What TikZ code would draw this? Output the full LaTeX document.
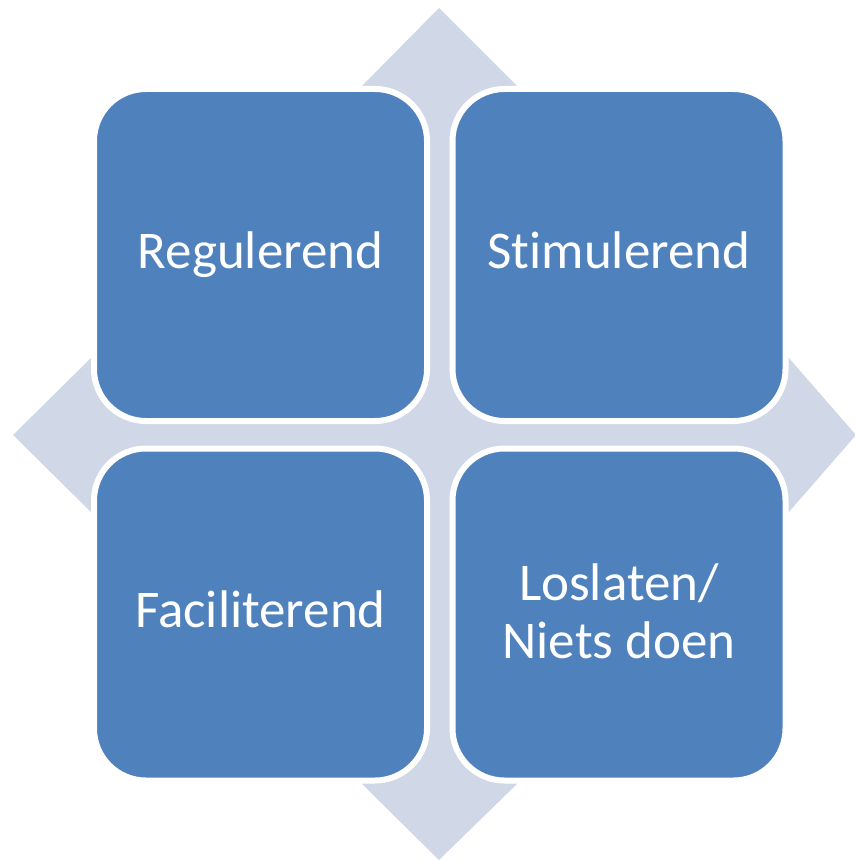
\documentclass[tikz,border=0pt]{standalone}
\usepackage{fontspec}
\setmainfont{Carlito}[Ligatures=NoCommon]
\definecolor{boxblue}{HTML}{4F81BD}
\definecolor{crossgray}{HTML}{D0D7E6}
\begin{document}
\begin{tikzpicture}[x=1pt,y=-1pt,
  quad/.style={draw=white, line width=6pt, fill=boxblue, rounded corners=52pt,
    minimum width=333pt, minimum height=332pt, inner sep=0pt, outer sep=0pt},
  quadtext/.style={text=white, font=\fontsize{53}{58}\selectfont, align=center, inner sep=0pt}]
\useasboundingbox (0,0) rectangle (854,861);
% background four-pointed arrow cross
\fill[crossgray] (439,8) -- (518,87) -- (518,357) -- (788,357) -- (856,435) -- (788,513)
  -- (518,513) -- (518,783) -- (439,860) -- (361,783) -- (361,513) -- (92,513)
  -- (13,435) -- (92,357) -- (361,357) -- (361,87) -- cycle;
% boxes
\node[quad] (tl) at (260.5,255) {};
\node[quad] (tr) at (619,255) {};
\node[quad] (bl) at (260.5,614.5) {};
\node[quad] (br) at (619,614.5) {};
% texts
\node[quadtext, anchor=base] (tlt) at ([yshift=-13pt]tl.center) {Regulerend};
\node[quadtext, anchor=base] (trt) at ([yshift=-13pt]tr.center) {Stimulerend};
\node[quadtext, anchor=base] (blt) at ([yshift=-13pt]bl.center) {Faciliterend};
\node[quadtext] (brt) at ([yshift=3pt]br.center) {Loslaten/\\Niets doen};
\end{tikzpicture}
\end{document}
